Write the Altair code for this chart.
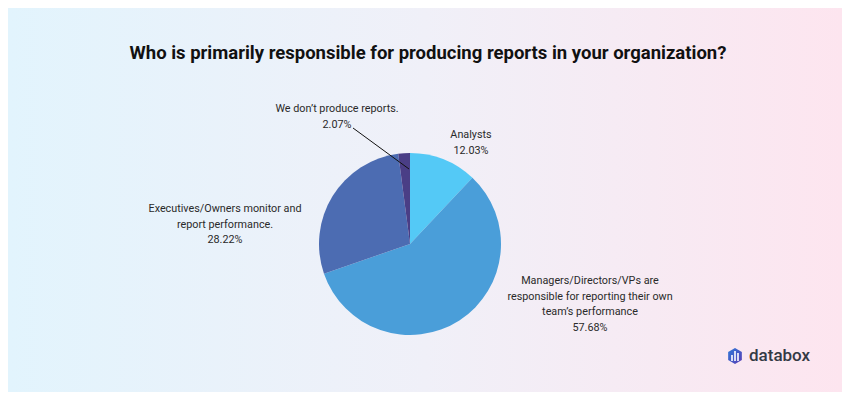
import altair as alt
import pandas as pd

categories = [
    "Analysts",
    "Managers/Directors/VPs are responsible for reporting their own team's performance",
    "Executives/Owners monitor and report performance.",
    "We don't produce reports.",
]
values = [12.03, 57.68, 28.22, 2.07]
order = [1, 2, 3, 4]
colors = ["#54c9f6", "#4a9ed9", "#4c6cb2", "#4a3e86"]

W, H = 834, 384
FONT = "Roboto"
OX, OY = -8, -8  # page-to-chart offset

df = pd.DataFrame({"category": categories, "value": values, "order": order})
one = pd.DataFrame({"k": [0]})


def px(x):
    return alt.value(x + OX)


def py(y):
    return alt.value(y + OY)


bg = alt.Chart(one).mark_rect(
    fill=alt.LinearGradient(
        gradient="linear",
        x1=0, y1=0, x2=1, y2=0,
        stops=[
            alt.GradientStop(color="#e2f4fd", offset=0),
            alt.GradientStop(color="#f0f0f8", offset=0.5),
            alt.GradientStop(color="#fde5ef", offset=1),
        ],
    )
).encode(x=alt.value(0), x2=alt.value(W), y=alt.value(0), y2=alt.value(H))

pie = alt.Chart(df).mark_arc(outerRadius=91).encode(
    theta=alt.Theta("value:Q", stack=True),
    order=alt.Order("order:Q"),
    color=alt.Color("category:N", scale=alt.Scale(domain=categories, range=colors), legend=None),
    x=px(410),
    y=py(244),
)

title = alt.Chart(one).mark_text(
    text="Who is primarily responsible for producing reports in your organization?",
    font=FONT, fontSize=18.5, fontWeight="bold", color="#111111", align="center", baseline="middle",
).encode(x=px(428), y=py(53))


def label(lines, x, y):
    return alt.Chart(one).mark_text(
        text=lines, font=FONT, fontSize=10.8, color="#2a2a2a", align="center",
        baseline="top", lineHeight=15.5,
    ).encode(x=px(x), y=py(y))


lab_none = label(["We don\u2019t produce reports.", "2.07%"], 337, 103)
lab_analysts = label(["Analysts", "12.03%"], 471, 129)
lab_exec = label(["Executives/Owners monitor and", "report performance.", "28.22%"], 225, 203)
lab_mgr = label(["Managers/Directors/VPs are", "responsible for reporting their own",
                 "team\u2019s performance", "57.68%"], 590, 275)

leader = alt.Chart(one).mark_rule(color="#111111", strokeWidth=1).encode(
    x=px(353), y=py(128), x2=px(409), y2=py(169)
)

hexagon = alt.Chart(one).mark_point(
    shape="M0,-1L0.866,-0.5L0.866,0.5L0,1L-0.866,0.5L-0.866,-0.5Z",
    filled=True, size=250, opacity=1,
    fill=alt.LinearGradient(
        gradient="linear", x1=0, y1=0, x2=1, y2=1,
        stops=[alt.GradientStop(color="#2f7ad8", offset=0),
               alt.GradientStop(color="#5a3db5", offset=1)],
    ),
).encode(x=px(735), y=py(356))

bars = alt.layer(
    alt.Chart(one).mark_rule(color="white", strokeWidth=1.6).encode(
        x=px(732), x2=px(732), y=py(355), y2=py(361)),
    alt.Chart(one).mark_rule(color="white", strokeWidth=1.6).encode(
        x=px(735), x2=px(735), y=py(351), y2=py(361)),
    alt.Chart(one).mark_rule(color="white", strokeWidth=1.6).encode(
        x=px(738), x2=px(738), y=py(353), y2=py(361)),
)

logo_text = alt.Chart(one).mark_text(
    text="databox", font=FONT, fontSize=17, fontWeight=500, color="#333a45",
    align="left", baseline="middle",
).encode(x=px(749), y=py(356))

chart = alt.layer(
    bg, pie, leader, title, lab_none, lab_analysts, lab_exec, lab_mgr, hexagon, bars, logo_text
).properties(
    width=W, height=H, padding=0,
    autosize=alt.AutoSizeParams(type="fit", contains="padding"),
).configure_view(stroke=None)

chart.save("out.html", embed_options={"renderer": "svg", "actions": False})
